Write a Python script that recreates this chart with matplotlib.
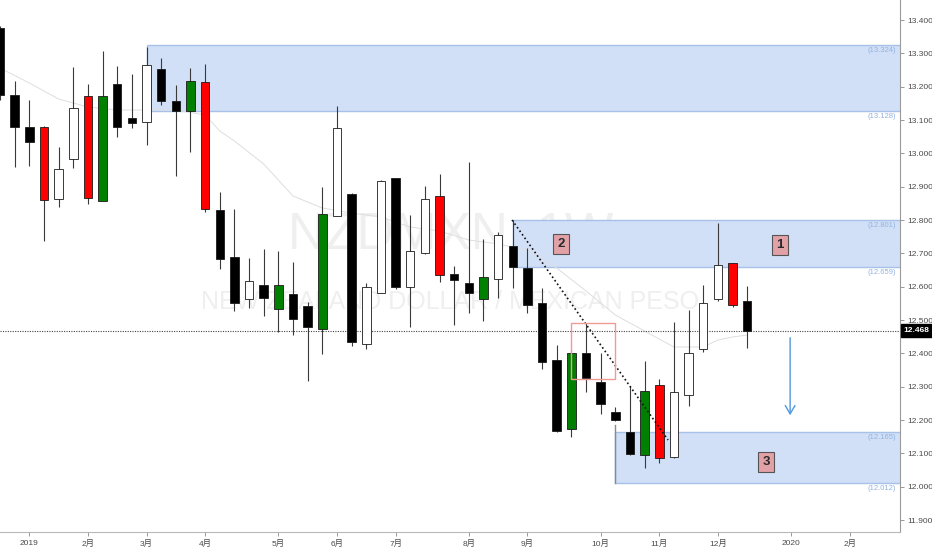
import matplotlib
matplotlib.use("Agg")
import matplotlib.pyplot as plt
import matplotlib.patches as mpatches
import matplotlib.transforms as mtransforms
import numpy as np

plt.rcParams["font.family"] = ["Liberation Sans", "Noto Sans CJK SC", "DejaVu Sans"]

# weekly bars, index 0 = first week of 2019
bar_idx = list(range(-2, 50))
opens = [13.376, 13.175, 13.079, 13.079, 12.863, 12.983, 13.172, 12.857, 13.208, 13.106,
         13.094, 13.253, 13.157, 13.127, 13.214, 12.830, 12.689, 12.563, 12.605, 12.533,
         12.578, 12.542, 12.473, 12.812, 12.878, 12.428, 12.581, 12.926, 12.599, 12.701,
         12.872, 12.638, 12.611, 12.563, 12.623, 12.722, 12.656, 12.551, 12.380, 12.173,
         12.401, 12.314, 12.224, 12.164, 12.095, 12.305, 12.089, 12.275, 12.413, 12.563,
         12.671, 12.557]
highs = [13.382, 13.217, 13.160, 13.082, 13.019, 13.259, 13.208, 13.307, 13.262, 13.238,
         13.319, 13.286, 13.205, 13.256, 13.268, 12.884, 12.833, 12.686, 12.713, 12.707,
         12.674, 12.554, 12.899, 13.142, 12.881, 12.611, 12.920, 12.926, 12.815, 12.902,
         12.938, 12.662, 12.974, 12.743, 12.764, 12.800, 12.716, 12.596, 12.425, 12.410,
         12.491, 12.401, 12.239, 12.302, 12.377, 12.323, 12.494, 12.530, 12.605, 12.791,
         12.671, 12.602]
lows = [13.160, 12.959, 12.962, 12.737, 12.839, 12.956, 12.848, 12.857, 13.049, 13.076,
        13.025, 13.145, 12.932, 13.004, 12.824, 12.653, 12.527, 12.536, 12.512, 12.464,
        12.455, 12.317, 12.398, 12.812, 12.422, 12.413, 12.581, 12.593, 12.479, 12.698,
        12.614, 12.485, 12.521, 12.497, 12.566, 12.596, 12.521, 12.353, 12.164, 12.149,
        12.284, 12.218, 12.197, 12.095, 12.056, 12.071, 12.086, 12.242, 12.404, 12.557,
        12.539, 12.416]
closes = [13.175, 13.079, 13.034, 12.860, 12.953, 13.136, 12.866, 13.172, 13.079, 13.091,
          13.265, 13.157, 13.127, 13.217, 12.833, 12.683, 12.551, 12.617, 12.566, 12.605,
          12.503, 12.479, 12.818, 13.076, 12.434, 12.599, 12.917, 12.599, 12.707, 12.863,
          12.635, 12.620, 12.581, 12.629, 12.755, 12.659, 12.545, 12.374, 12.167, 12.401,
          12.326, 12.248, 12.200, 12.098, 12.287, 12.086, 12.284, 12.401, 12.551, 12.665,
          12.545, 12.468]
bar_colours = list("kkkrwwrgkkwkkgrkkwkgkkgwkwwkwwrkkgwkkkkgkkkkgrwwwwrk")

# grey moving average
ma_idx = [-2, 0, 2, 4, 6, 8, 10, 12, 13, 14, 16, 18, 20, 22, 24, 26, 28, 30, 32, 34,
          36, 38, 40, 42, 44, 46, 47, 48, 49]
ma_val = [13.256, 13.211, 13.163, 13.139, 13.130, 13.130, 13.130, 13.115, 13.067, 13.037,
          12.968, 12.872, 12.836, 12.821, 12.809, 12.779, 12.767, 12.740, 12.728, 12.710,
          12.656, 12.587, 12.515, 12.467, 12.419, 12.419, 12.440, 12.449, 12.455]

# supply / demand zones: start bar, bottom, top
zone_start = [8, 33, 40]
zone_low = [13.128, 12.659, 12.012]
zone_high = [13.324, 12.801, 12.165]

box_labels = ["1", "2", "3"]
box_x = [51.24, 36.29, 50.29]
box_y = [12.725, 12.728, 12.074]

trend_x = [32.95, 43.6]
trend_y = [12.800, 12.140]
red_box = [37.0, 40.0, 12.323, 12.491]  # x0, x1, y0, y1
arrow_x = 51.93
arrow_y = [12.455, 12.206]
last_price = 12.468

month_idx = [0, 4, 8, 12, 17, 21, 25, 30, 34, 39, 43, 47, 52, 56]
month_lbl = ["2019", "2月", "3月", "4月", "5月", "6月", "7月", "8月", "9月", "10月",
             "11月", "12月", "2020", "2月"]

FILL = {"k": "#000000", "w": "#ffffff", "r": "#ff0000", "g": "#008000"}

fig = plt.figure(figsize=(9.32, 5.5), dpi=100)
ax = fig.add_axes([0, 18 / 550, 900 / 932, 532 / 550])
ax.set_xlim(-2.0, 59.43)
ax.set_ylim(11.864, 13.46)

# watermark
ax.text(0.501, 0.558, "NZDMXN, 1W", transform=ax.transAxes, ha="center", va="center",
        fontsize=37, color="#efefef", zorder=0)
ax.text(0.5, 0.432, "NEW ZEALAND DOLLAR / MEXICAN PESO", transform=ax.transAxes,
        ha="center", va="center", fontsize=18, color="#efefef", zorder=0)

# zones
blend = mtransforms.blended_transform_factory(ax.transAxes, ax.transData)
for x0, lo, hi in zip(zone_start, zone_low, zone_high):
    ax.add_patch(mpatches.Rectangle((x0, lo), 59.43 - x0 + 1, hi - lo, facecolor="#d1e0f7",
                                    edgecolor="#a7c1e8", lw=1, zorder=0.5))
    for v in (hi, lo):
        ax.annotate(f"({v:.3f})", xy=(0.995, v), xycoords=blend, xytext=(0, -4),
                    textcoords="offset points", ha="right", va="center", fontsize=5.5,
                    color="#93b2e0", zorder=3)
ax.plot([zone_start[2], zone_start[2]], [zone_low[2], zone_high[2] + 0.02], color="#8a8a8a",
        lw=1, zorder=0.6)

ax.plot(ma_idx, ma_val, color="#dedede", lw=0.7, zorder=1)

# candles
ax.vlines(bar_idx, lows, highs, color="#3a3a3a", lw=0.8, zorder=2)
body_lo = [min(o, c) for o, c in zip(opens, closes)]
body_h = [max(abs(c - o), 0.002) for o, c in zip(opens, closes)]
ax.bar(bar_idx, body_h, bottom=body_lo, width=0.58, color=[FILL[c] for c in bar_colours],
       edgecolor="#1a1a1a", linewidth=0.6, zorder=3)

ax.axhline(last_price, color="#444444", lw=0.8, ls=(0, (1, 1.2)), zorder=1.5)

ax.plot(trend_x, trend_y, color="#111111", lw=1.2, ls=(0, (1, 1.6)), zorder=4)
ax.add_patch(mpatches.Rectangle((red_box[0], red_box[2]), red_box[1] - red_box[0],
                                red_box[3] - red_box[2], fill=False, edgecolor="#f09a94",
                                lw=1, zorder=4))
ax.annotate("", xy=(arrow_x, arrow_y[1]), xytext=(arrow_x, arrow_y[0]),
            arrowprops=dict(arrowstyle="->,head_length=0.6,head_width=0.35",
                            color="#4f98dc", lw=1), zorder=4)

for t, x, y in zip(box_labels, box_x, box_y):
    ax.text(x, y, t, ha="center", va="center", fontsize=9.5, fontweight="bold",
            color="#2a2a2a", zorder=5,
            bbox=dict(boxstyle="square,pad=0.3", fc="#e2a0a7", ec="#555555", lw=0.8))

# axes styling
for s in ("left", "top"):
    ax.spines[s].set_visible(False)
ax.spines["right"].set_color("#9a9a9a")
ax.spines["bottom"].set_color("#b8b8b8")
ax.yaxis.tick_right()
yt = np.arange(11.9, 13.41, 0.1)
ax.set_yticks(yt)
ax.set_yticklabels([f"{v:.3f}" for v in yt])
ax.tick_params(axis="y", length=3, width=0.6, color="#888888", labelsize=6,
               labelcolor="#4a4a4a", pad=2)
ax.set_xticks(month_idx)
ax.set_xticklabels(month_lbl)
ax.tick_params(axis="x", length=3, width=0.6, color="#888888", labelsize=6,
               labelcolor="#4a4a4a", pad=3)

ax.text(1.004, last_price, "12.468", transform=blend, ha="left", va="center", fontsize=6,
        fontweight="bold", color="white", zorder=6, clip_on=False,
        bbox=dict(boxstyle="square,pad=0.35", fc="black", ec="black"))

fig.savefig("out.png", dpi=100)
